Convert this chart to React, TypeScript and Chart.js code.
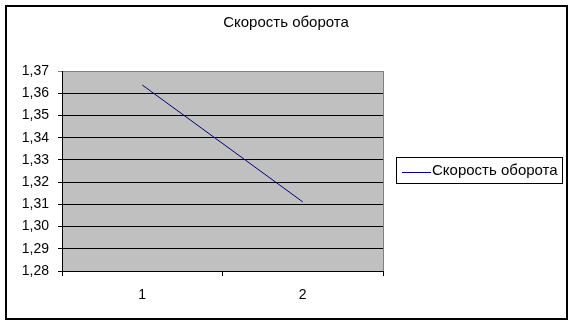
import React, { useEffect, useRef } from "react";
import { Chart, registerables } from "chart.js";

Chart.register(...registerables);

const TITLE = "Скорость оборота";
const SERIES_LABEL = "Скорость оборота";
const CATEGORIES = ["1", "2"];
const VALUES = [1.3637, 1.3111];
const Y_MIN = 1.28;
const Y_MAX = 1.37;
const Y_STEP = 0.01;

const FONT = "'Liberation Sans', Arial, sans-serif";

const decorPlugin = {
  id: "decor",
  beforeDraw(chart: any) {
    const { ctx, chartArea } = chart;
    ctx.save();
    ctx.fillStyle = "#ffffff";
    ctx.fillRect(0, 0, chart.width, chart.height);
    ctx.fillStyle = "#c0c0c0";
    ctx.fillRect(chartArea.left, chartArea.top, chartArea.right - chartArea.left, chartArea.bottom - chartArea.top);
    ctx.strokeStyle = "#808080";
    ctx.lineWidth = 1;
    ctx.beginPath();
    ctx.moveTo(Math.round(chartArea.right) + 0.5, chartArea.top);
    ctx.lineTo(Math.round(chartArea.right) + 0.5, chartArea.bottom);
    ctx.stroke();
    ctx.restore();
  },
  afterDraw(chart: any) {
    const { ctx } = chart;
    ctx.save();
    // outer border
    ctx.strokeStyle = "#000000";
    ctx.lineWidth = 2;
    ctx.strokeRect(6, 6, 561, 313);
    // title
    ctx.fillStyle = "#000000";
    ctx.font = `15px ${FONT}`;
    ctx.textAlign = "center";
    ctx.textBaseline = "middle";
    ctx.fillText(TITLE, 286, 23);
    // legend
    ctx.lineWidth = 1;
    ctx.strokeStyle = "#000000";
    ctx.strokeRect(396.5, 157.5, 166, 26);
    ctx.strokeStyle = "#000080";
    ctx.beginPath();
    ctx.moveTo(402, 172.5);
    ctx.lineTo(431, 172.5);
    ctx.stroke();
    ctx.textAlign = "left";
    ctx.fillStyle = "#000000";
    ctx.fillText(SERIES_LABEL, 432, 171);
    ctx.restore();
  },
};

export default function App() {
  const ref = useRef<HTMLCanvasElement | null>(null);
  useEffect(() => {
    document.body.style.margin = "0";
    const chart = new Chart(ref.current as HTMLCanvasElement, {
      type: "line",
      data: {
        labels: CATEGORIES,
        datasets: [
          {
            label: SERIES_LABEL,
            data: VALUES,
            borderColor: "#000080",
            borderWidth: 1,
            pointRadius: 0,
            fill: false,
            tension: 0,
          },
        ],
      },
      options: {
        responsive: false,
        animation: false,
        devicePixelRatio: 1,
        layout: { padding: { left: 0, top: 71, right: 191, bottom: 0 } },
        plugins: { legend: { display: false }, title: { display: false }, tooltip: { enabled: false } },
        scales: {
          x: {
            type: "category",
            offset: true,
            afterFit: (s: any) => {
              s.height = 54;
            },
            grid: {
              offset: true,
              drawOnChartArea: false,
              drawTicks: true,
              tickLength: 5,
              color: "#000000",
            },
            border: { display: true, color: "#000000" },
            ticks: { color: "#000000", font: { family: FONT, size: 14 }, padding: 11 },
          },
          y: {
            min: Y_MIN,
            max: Y_MAX,
            afterFit: (s: any) => {
              s.width = 62;
            },
            afterBuildTicks: (s: any) => {
              const t = [];
              for (let i = 0; i <= Math.round((Y_MAX - Y_MIN) / Y_STEP); i++) {
                t.push({ value: Math.round((Y_MIN + i * Y_STEP) * 100) / 100 });
              }
              s.ticks = t;
            },
            grid: {
              drawTicks: true,
              tickLength: 4,
              color: (c: any) => (c.tick && Math.abs(c.tick.value - Y_MAX) < 1e-9 ? "#808080" : "#000000"),
            },
            border: { display: true, color: "#000000" },
            ticks: {
              color: "#000000",
              font: { family: FONT, size: 14 },
              padding: 9,
              callback: (v: any) => Number(v).toFixed(2).replace(".", ","),
            },
          },
        },
      },
      plugins: [decorPlugin],
    });
    return () => chart.destroy();
  }, []);
  return (
    <div style={{ position: "absolute", left: 0, top: 0, width: 574, height: 325 }}>
      <canvas ref={ref} width={574} height={325} style={{ width: 574, height: 325 }} />
    </div>
  );
}
